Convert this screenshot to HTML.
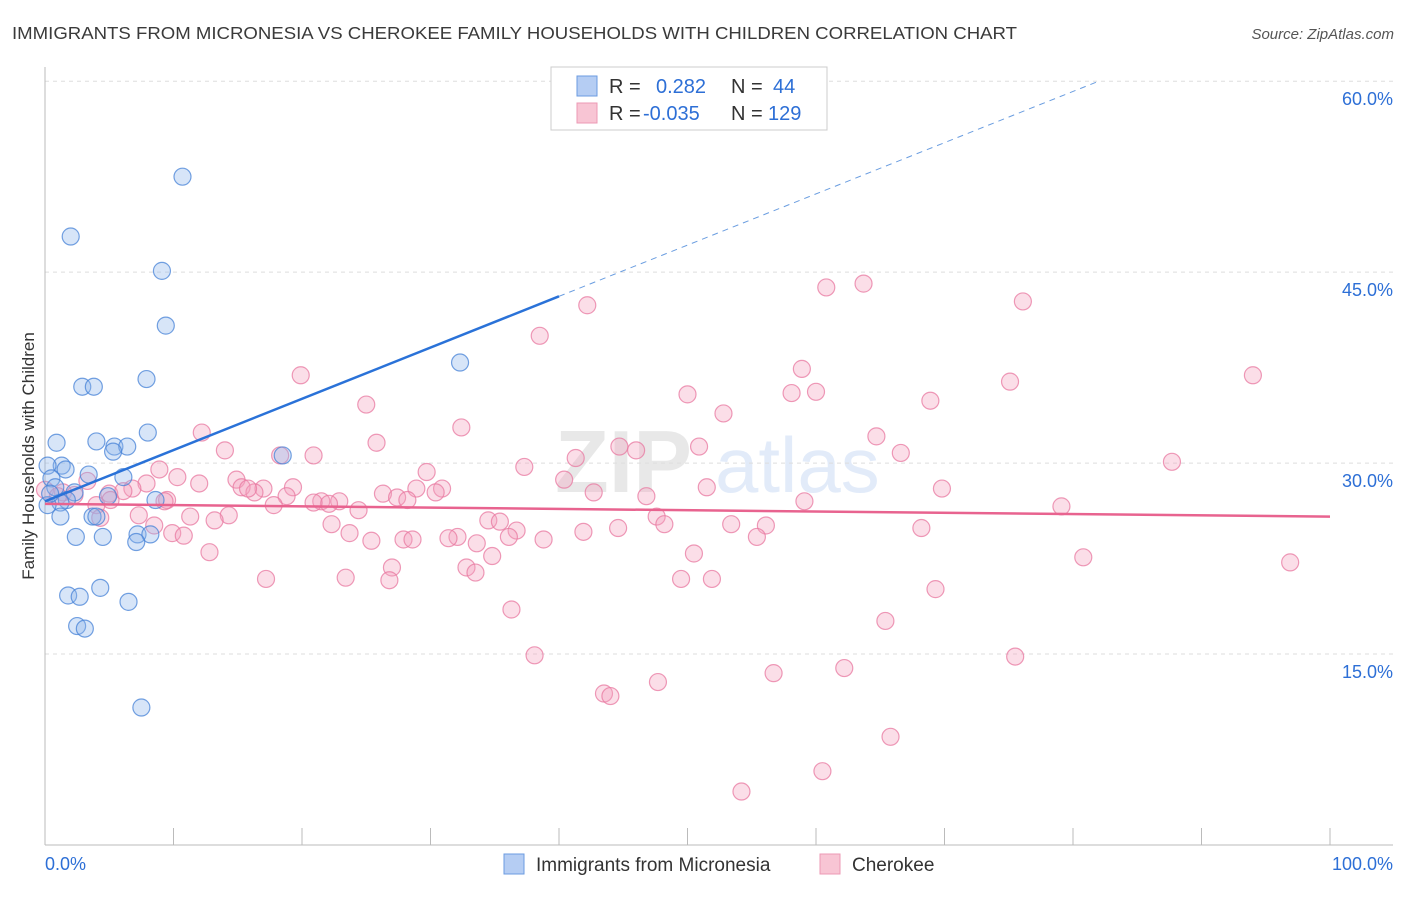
<!DOCTYPE html>
<html><head><meta charset="utf-8"><style>
body{margin:0;background:#fff;font-family:"Liberation Sans",sans-serif;}
svg text{font-family:"Liberation Sans",sans-serif;}
</style></head><body>
<svg id="chart" width="1406" height="892" xmlns="http://www.w3.org/2000/svg">
<text x="12" y="39" font-size="17.5" fill="#3a3a3a" textLength="1005" lengthAdjust="spacingAndGlyphs">IMMIGRANTS FROM MICRONESIA VS CHEROKEE FAMILY HOUSEHOLDS WITH CHILDREN CORRELATION CHART</text>
<text x="1394" y="39" font-size="15" fill="#555" font-style="italic" text-anchor="end">Source: ZipAtlas.com</text>
<text transform="translate(34,456) rotate(-90)" font-size="17" fill="#333" text-anchor="middle">Family Households with Children</text>
<g opacity="0.13">
<text x="555" y="492" font-size="88" font-family="Liberation Serif" fill="#555" font-weight="bold">ZIP</text>
<text x="715" y="492" font-size="78" fill="#2a6fd6">atlas</text>
</g>
<g id="grid"></g><g id="axes"></g><g id="pts"></g><g id="trend"></g>
<g>
<rect x="551" y="67" width="276" height="63" fill="#fff" stroke="#ccc"/>
<rect x="577" y="76" width="20" height="20" fill="#b5cdf3" stroke="#6b9be0"/>
<rect x="577" y="103" width="20" height="20" fill="#f8c5d4" stroke="#ec99b4"/>
<text x="609" y="93" font-size="20" fill="#333">R =</text>
<text x="656" y="93" font-size="20" fill="#2d6fd6">0.282</text>
<text x="731" y="93" font-size="20" fill="#333">N =</text>
<text x="773" y="93" font-size="20" fill="#2d6fd6">44</text>
<text x="609" y="120" font-size="20" fill="#333">R =</text>
<text x="643" y="120" font-size="20" fill="#2d6fd6">-0.035</text>
<text x="731" y="120" font-size="20" fill="#333">N =</text>
<text x="768" y="120" font-size="20" fill="#2d6fd6">129</text>
</g>
<g>
<rect x="504" y="854" width="20" height="20" fill="#b5cdf3" stroke="#6b9be0"/>
<text x="536" y="871" font-size="19" fill="#333">Immigrants from Micronesia</text>
<rect x="820" y="854" width="20" height="20" fill="#f8c5d4" stroke="#ec99b4"/>
<text x="852" y="871" font-size="19" fill="#333">Cherokee</text>
</g>
</svg>
<script>
const xTicks=[0,10,20,30,40,50,60,70,80,90,100];
const yTicks=[15,30,45,60];
const yTickLabels=["15.0%","30.0%","45.0%","60.0%"];
const xEndLabels=["0.0%","100.0%"];
const blueX=[10.7,2.0,9.1,9.4,32.3,2.9,3.8,7.9,8.0,0.9,4.0,5.4,6.4,5.3,18.5,1.3,0.2,1.6,3.4,6.1,0.5,0.8,2.3,4.9,1.7,1.2,8.6,0.2,1.2,3.7,4.0,2.4,4.5,7.2,8.2,7.1,4.3,1.8,2.7,6.5,2.5,3.1,7.5,0.4];
const blueY=[52.5,47.8,45.1,40.8,37.9,36.0,36.0,36.6,32.4,31.6,31.7,31.3,31.3,30.9,30.6,29.8,29.8,29.5,29.1,28.9,28.8,28.1,27.7,27.4,27.1,26.9,27.1,26.7,25.8,25.8,25.8,24.2,24.2,24.4,24.4,23.8,20.2,19.6,19.5,19.1,17.2,17.0,10.8,27.6];
const pinkX=[63.7,60.8,76.1,42.2,38.5,58.9,19.9,75.1,94.0,50.0,58.1,60.0,25.0,52.8,68.9,32.4,12.2,25.8,64.7,44.7,50.9,46.0,14.0,18.3,20.9,66.6,87.7,41.3,37.3,8.9,29.7,40.4,10.3,14.9,3.3,7.9,12.0,15.3,17.0,19.3,6.8,28.9,30.9,51.5,69.8,0.0,1.4,2.3,5.0,16.3,26.3,27.4,30.4,42.7,46.8,18.8,15.8,1.0,6.1,5.1,9.5,9.3,21.5,22.9,22.1,28.2,59.1,20.9,17.8,4.0,24.4,79.1,11.3,14.3,7.3,47.6,4.3,13.2,34.5,22.3,35.4,8.5,53.4,56.1,48.2,68.2,36.7,44.6,41.9,23.7,32.1,31.4,9.9,10.8,25.4,27.9,33.6,38.8,36.1,55.4,28.6,50.5,34.8,12.8,80.8,96.9,32.8,33.5,27.0,17.2,23.4,26.8,49.5,51.9,69.3,36.3,65.4,75.5,38.1,62.2,47.7,56.7,43.5,44.0,65.8,60.5,54.2];
const pinkY=[44.1,43.8,42.7,42.4,40.0,37.4,36.9,36.4,36.9,35.4,35.5,35.6,34.6,33.9,34.9,32.8,32.4,31.6,32.1,31.3,31.3,31.0,31.0,30.6,30.6,30.8,30.1,30.4,29.7,29.5,29.3,28.7,28.9,28.7,28.6,28.4,28.4,28.1,28.0,28.1,28.0,28.0,28.0,28.1,28.0,27.9,27.7,27.5,27.6,27.7,27.6,27.3,27.7,27.7,27.4,27.4,28.0,27.4,27.8,27.1,27.1,27.0,27.0,27.0,26.8,27.1,27.0,26.9,26.7,26.7,26.3,26.6,25.8,25.9,25.9,25.8,25.7,25.5,25.5,25.2,25.4,25.1,25.2,25.1,25.2,24.9,24.7,24.9,24.6,24.5,24.2,24.1,24.5,24.3,23.9,24.0,23.7,24.0,24.2,24.2,24.0,22.9,22.7,23.0,22.6,22.2,21.8,21.4,21.8,20.9,21.0,20.8,20.9,20.9,20.1,18.5,17.6,14.8,14.9,13.9,12.8,13.5,11.9,11.7,8.5,5.8,4.2];
const blueTrendX=[0,40,82.0];
const blueTrendY=[27.0,43.1,60.0];
const pinkTrendX=[0,100];
const pinkTrendY=[26.8,25.8];
const X=v=>45+v*12.85, Y=v=>845-v*12.73;
const NS="http://www.w3.org/2000/svg";
function mk(tag,attrs,parent){const e=document.createElementNS(NS,tag);for(const k in attrs)e.setAttribute(k,attrs[k]);document.getElementById(parent).appendChild(e);return e;}
yTicks.forEach((t,i)=>{
 const g=mk('line',{x1:45,x2:1393,y1:Y(t),y2:Y(t),stroke:'#ddd','stroke-dasharray':'4,4'},'grid');
 
 
 const l=mk('text',{x:1393,y:Y(t)+24,'font-size':18,fill:'#2d6fd6','text-anchor':'end'},'grid');
 l.textContent=yTickLabels[i];
 
 
});
const ya=mk('line',{x1:45,x2:45,y1:67,y2:845,stroke:'#bbb'},'axes');


const xa=mk('line',{x1:45,x2:1393,y1:845,y2:845,stroke:'#bbb'},'axes');


xTicks.forEach(t=>{
 const k=mk('line',{x1:X(t),x2:X(t),y1:828,y2:845,stroke:'#bbb'},'axes');
 
 
});
[[0,'start',45],[100,'end',1393]].forEach((a,i)=>{
 const l=mk('text',{x:a[2],y:870,'font-size':18,fill:'#2d6fd6','text-anchor':a[1]},'axes');
 l.textContent=xEndLabels[i];
 
 
});
pinkX.forEach((x,i)=>{
 const c=mk('circle',{cx:X(x),cy:Y(pinkY[i]),r:8.5,fill:'rgba(244,160,188,0.35)',stroke:'rgba(232,120,160,0.75)','stroke-width':1.2},'pts');
 
 
});
blueX.forEach((x,i)=>{
 const c=mk('circle',{cx:X(x),cy:Y(blueY[i]),r:8.5,fill:'rgba(140,180,235,0.35)',stroke:'rgba(70,130,215,0.75)','stroke-width':1.2},'pts');
 
 
});
const b1=mk('line',{x1:X(blueTrendX[0]),y1:Y(blueTrendY[0]),x2:X(blueTrendX[1]),y2:Y(blueTrendY[1]),stroke:'#2a72d8','stroke-width':2.5},'trend');


const b2=mk('line',{x1:X(blueTrendX[1]),y1:Y(blueTrendY[1]),x2:X(blueTrendX[2]),y2:Y(blueTrendY[2]),stroke:'#6a9de0','stroke-width':1,'stroke-dasharray':'6,5'},'trend');


const p1=mk('line',{x1:X(pinkTrendX[0]),y1:Y(pinkTrendY[0]),x2:X(pinkTrendX[1]),y2:Y(pinkTrendY[1]),stroke:'#e8638f','stroke-width':2.5},'trend');


</script>
</body></html>
